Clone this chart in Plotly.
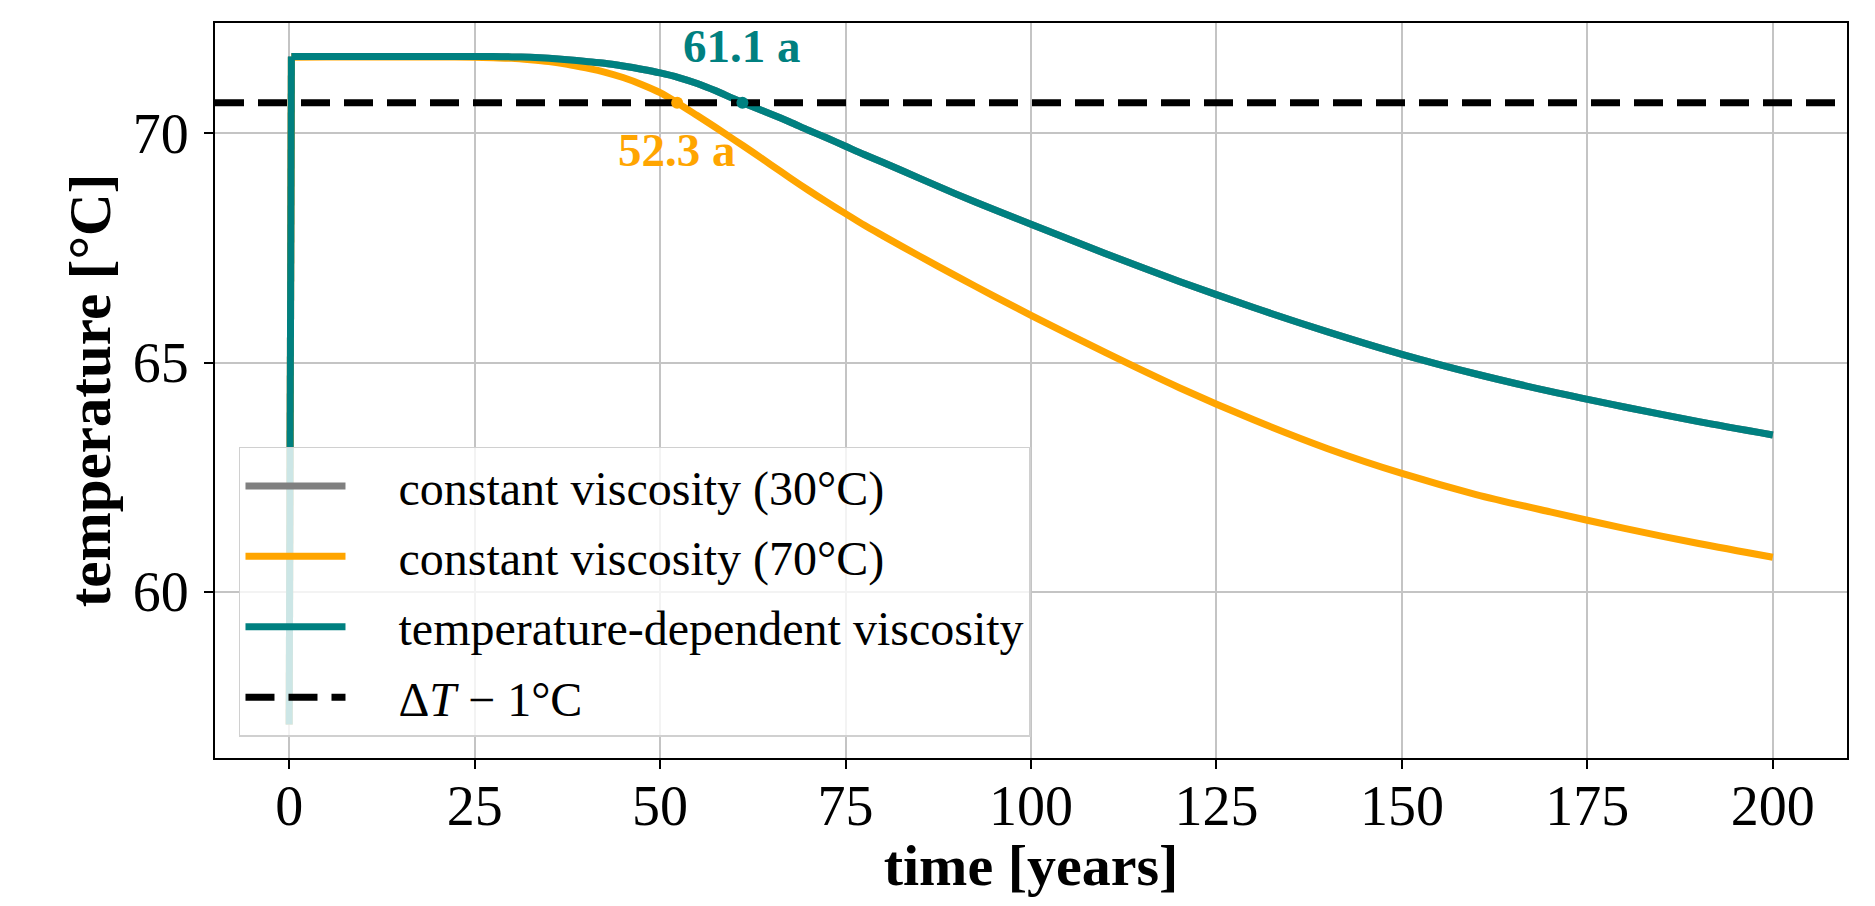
import plotly.graph_objects as go

# data
time = [0, 0.3, 5, 10, 15, 20, 25, 27.5, 30, 32.5, 35, 37.5, 40, 42.5, 45, 47.5, 50, 52.5,
        55, 57.5, 60, 62.5, 65, 67.5, 70, 72.5, 75, 77.5, 80, 85, 90, 95,
        100, 110, 120, 130, 140, 150, 160, 170, 180, 190, 200]
temp_const_70 = [57.1, 71.66, 71.67, 71.67, 71.67, 71.67, 71.66, 71.65, 71.64, 71.61, 71.57,
                 71.51, 71.43, 71.34, 71.22, 71.07, 70.89, 70.65, 70.39, 70.13, 69.86, 69.59,
                 69.31, 69.03, 68.76, 68.5, 68.25, 68.0, 67.77, 67.32, 66.88, 66.45,
                 66.03, 65.22, 64.45, 63.75, 63.12, 62.58, 62.12, 61.74, 61.38, 61.05, 60.75]
temp_dep = [57.1, 71.68, 71.68, 71.68, 71.68, 71.68, 71.68, 71.68, 71.67, 71.66, 71.64,
            71.61, 71.57, 71.53, 71.47, 71.4, 71.32, 71.22, 71.09, 70.93, 70.75, 70.58,
            70.42, 70.25, 70.07, 69.9, 69.72, 69.54, 69.37, 69.02, 68.67, 68.34,
            68.02, 67.38, 66.77, 66.2, 65.67, 65.18, 64.75, 64.37, 64.03, 63.71, 63.42]
# 30 degC case lies under the temperature-dependent curve
temp_const_30 = temp_dep

threshold = 70.67
threshold_x = [-10, 210]
cross_70 = 52.3
cross_dep = 61.1

ORANGE = "#FFA500"
TEAL = "#008080"
GRAY = "#808080"
FONT = "Liberation Serif"
PAD = "\u00a0\u00a0\u00a0\u00a0"

series = [
    ("constant viscosity (30°C)", temp_const_30, GRAY),
    ("constant viscosity (70°C)", temp_const_70, ORANGE),
    ("temperature-dependent viscosity", temp_dep, TEAL),
]

fig = go.Figure()
for name, temps, color in series:
    # initial jump at t=0 as a straight segment, the rest smoothed
    fig.add_trace(go.Scatter(x=time[:2], y=temps[:2], mode="lines", legendgroup=name,
                             showlegend=False, line=dict(color=color, width=7)))
    fig.add_trace(go.Scatter(x=time[1:], y=temps[1:], mode="lines", name=PAD + name,
                             legendgroup=name,
                             line=dict(color=color, width=7, shape="spline", smoothing=0.8)))

fig.add_trace(go.Scatter(x=threshold_x, y=[threshold, threshold], mode="lines",
                         name=PAD + "Δ<i>T</i> − 1°C", legendgroup="thr",
                         line=dict(color="black", width=7, dash="29px,14px")))

# crossing points
fig.add_trace(go.Scatter(x=[cross_70], y=[threshold], mode="markers", showlegend=False,
                         marker=dict(color=ORANGE, size=12)))
fig.add_trace(go.Scatter(x=[cross_dep], y=[threshold], mode="markers", showlegend=False,
                         marker=dict(color=TEAL, size=12)))

fig.add_annotation(x=cross_dep, y=71.9, text="<b>%.1f a</b>" % cross_dep, showarrow=False,
                   font=dict(family=FONT, size=47, color=TEAL))
fig.add_annotation(x=cross_70, y=69.63, text="<b>%.1f a</b>" % cross_70, showarrow=False,
                   font=dict(family=FONT, size=47, color=ORANGE))

axis_common = dict(
    showline=True, linecolor="black", linewidth=2, mirror=True,
    ticks="outside", ticklen=9, tickwidth=2, tickcolor="black",
    showgrid=True, gridcolor="#c4c4c4", gridwidth=1.5, zeroline=False,
    tickfont=dict(family=FONT, size=56, color="black"),
)

fig.update_xaxes(range=[-10, 210], tickvals=[0, 25, 50, 75, 100, 125, 150, 175, 200],
                 ticklabelstandoff=-11,
                 title=dict(text="<b>time [years]</b>", font=dict(family=FONT, size=58, color="black"),
                            standoff=8),
                 **axis_common)
fig.update_yaxes(range=[56.37, 72.41], tickvals=[60, 65, 70],
                 ticklabelstandoff=4,
                 title=dict(text="<b>temperature [°C]</b>", font=dict(family=FONT, size=59, color="black"),
                            standoff=3),
                 **axis_common)

fig.update_layout(
    width=1859, height=890,
    margin=dict(l=207, r=20, t=15, b=136),
    plot_bgcolor="white", paper_bgcolor="white",
    font=dict(family=FONT, color="black"),
    legend=dict(x=0.0147, y=0.4235, xanchor="left", yanchor="top", tracegroupgap=5,
                bgcolor="rgba(255,255,255,0.8)", bordercolor="#d0d0d0", borderwidth=1.5,
                font=dict(family=FONT, size=48, color="black"), itemwidth=100),
)

fig.write_html("out.html")
